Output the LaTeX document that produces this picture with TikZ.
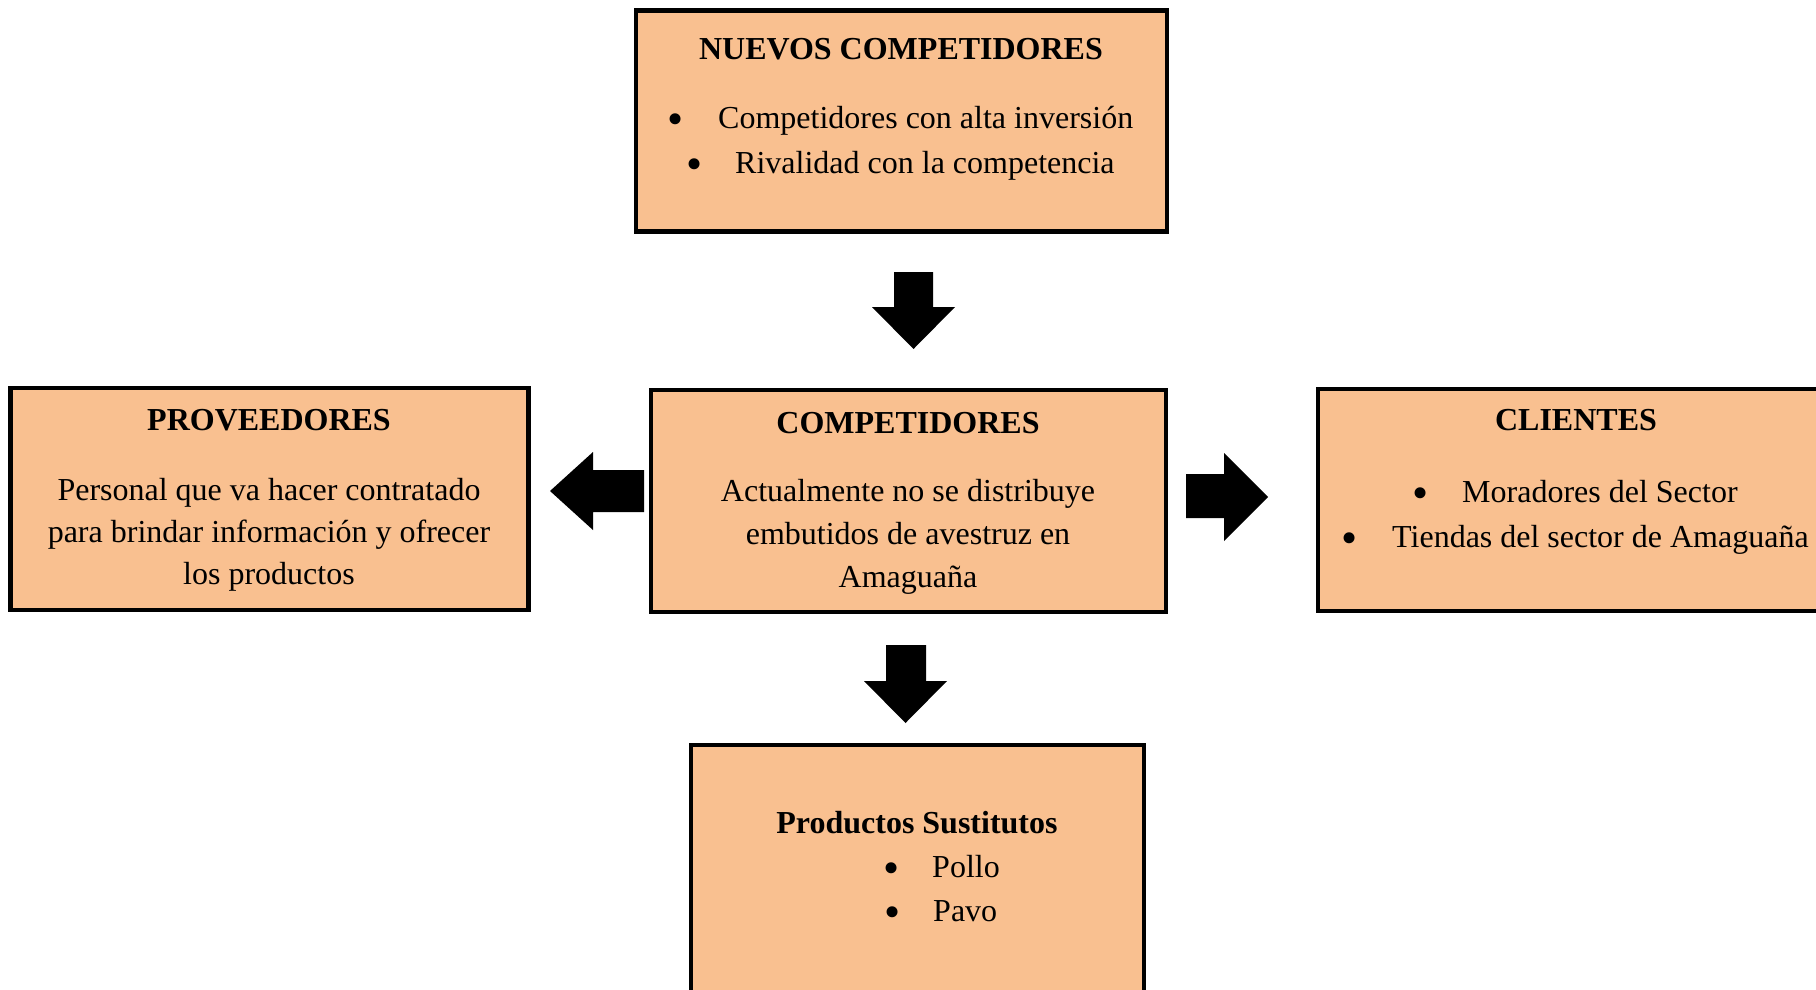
\documentclass[tikz,border=0pt]{standalone}
\usepackage{fontspec}
\setmainfont{Liberation Serif}
\definecolor{peach}{RGB}{249,192,144}
\begin{document}
\begin{tikzpicture}[x=1pt,y=-1pt,
  box/.style={draw=black,fill=peach,line width=4.5pt,anchor=north west,inner sep=0pt,outer sep=0pt,rectangle},
  txt/.style={inner sep=0pt,font=\fontsize{32}{45}\selectfont},
  ttl/.style={inner sep=0pt,font=\fontsize{32}{45}\selectfont\bfseries,anchor=base},
  blt/.style={inner sep=0pt,font=\fontsize{46}{46}\selectfont,anchor=center},
  barrow/.style={fill=black,draw=none}]
\useasboundingbox (0,0) rectangle (1816,989);
\clip (0,0) rectangle (1816,989);
% boxes
\node[box,minimum width=531pt,minimum height=221pt] (nuevos) at (636,10.5) {};
\node[box,minimum width=518pt,minimum height=222pt] (prov) at (10.5,388) {};
\node[box,minimum width=515pt,minimum height=222pt] (comp) at (651,390) {};
\node[box,minimum width=520pt,minimum height=222pt] (cli) at (1318,389) {};
\node[box,minimum width=453pt,minimum height=260pt] (sust) at (691,745) {};
% texts: nuevos competidores
\node[ttl] (nuevosT) at (901,59) {NUEVOS COMPETIDORES};
\node[blt] (nb1) at (676,124) {\textbullet};
\node[txt,anchor=base west] (n1) at (718,128) {Competidores con alta inversión};
\node[blt] (nb2) at (695,169) {\textbullet};
\node[txt,anchor=base west] (n2) at (735,173) {Rivalidad con la competencia};
% proveedores
\node[ttl] (provT) at (269,430) {PROVEEDORES};
\node[txt,anchor=base] (p1) at (269,500) {Personal que va hacer contratado};
\node[txt,anchor=base] (p2) at (269,542) {para brindar información y ofrecer};
\node[txt,anchor=base] (p3) at (269,584) {los productos};
% competidores
\node[ttl] (compT) at (908,433) {COMPETIDORES};
\node[txt,anchor=base] (c1) at (908,501) {Actualmente no se distribuye};
\node[txt,anchor=base] (c2) at (908,544) {embutidos de avestruz en};
\node[txt,anchor=base] (c3) at (908,587) {Amaguaña};
% clientes
\node[ttl] (cliT) at (1576,430) {CLIENTES};
\node[blt] (cb1) at (1421,498) {\textbullet};
\node[txt,anchor=base west] (cl1) at (1462,502) {Moradores del Sector};
\node[blt] (cb2) at (1350,543) {\textbullet};
\node[txt,anchor=base west] (cl2) at (1392,547) {Tiendas del sector de Amaguaña};
% productos sustitutos
\node[ttl] (sustT) at (917,833) {Productos Sustitutos};
\node[blt] (sb1) at (892,873) {\textbullet};
\node[txt,anchor=base west] (s1) at (932,877) {Pollo};
\node[blt] (sb2) at (893,917) {\textbullet};
\node[txt,anchor=base west] (s2) at (933,921) {Pavo};
% block arrows
\fill[barrow] (894,272) -- (933,272) -- (933,307) -- (955,307) -- (913.5,349) -- (872,307) -- (894,307) -- cycle;
\fill[barrow] (886,645) -- (926,645) -- (926,681) -- (947,681) -- (905.5,723) -- (864,681) -- (886,681) -- cycle;
\fill[barrow] (644,470) -- (644,512) -- (593,512) -- (593,530) -- (550,491) -- (593,452) -- (593,470) -- cycle;
\fill[barrow] (1186,474) -- (1224,474) -- (1224,453) -- (1268,497) -- (1224,541) -- (1224,518) -- (1186,518) -- cycle;
\end{tikzpicture}
\end{document}
